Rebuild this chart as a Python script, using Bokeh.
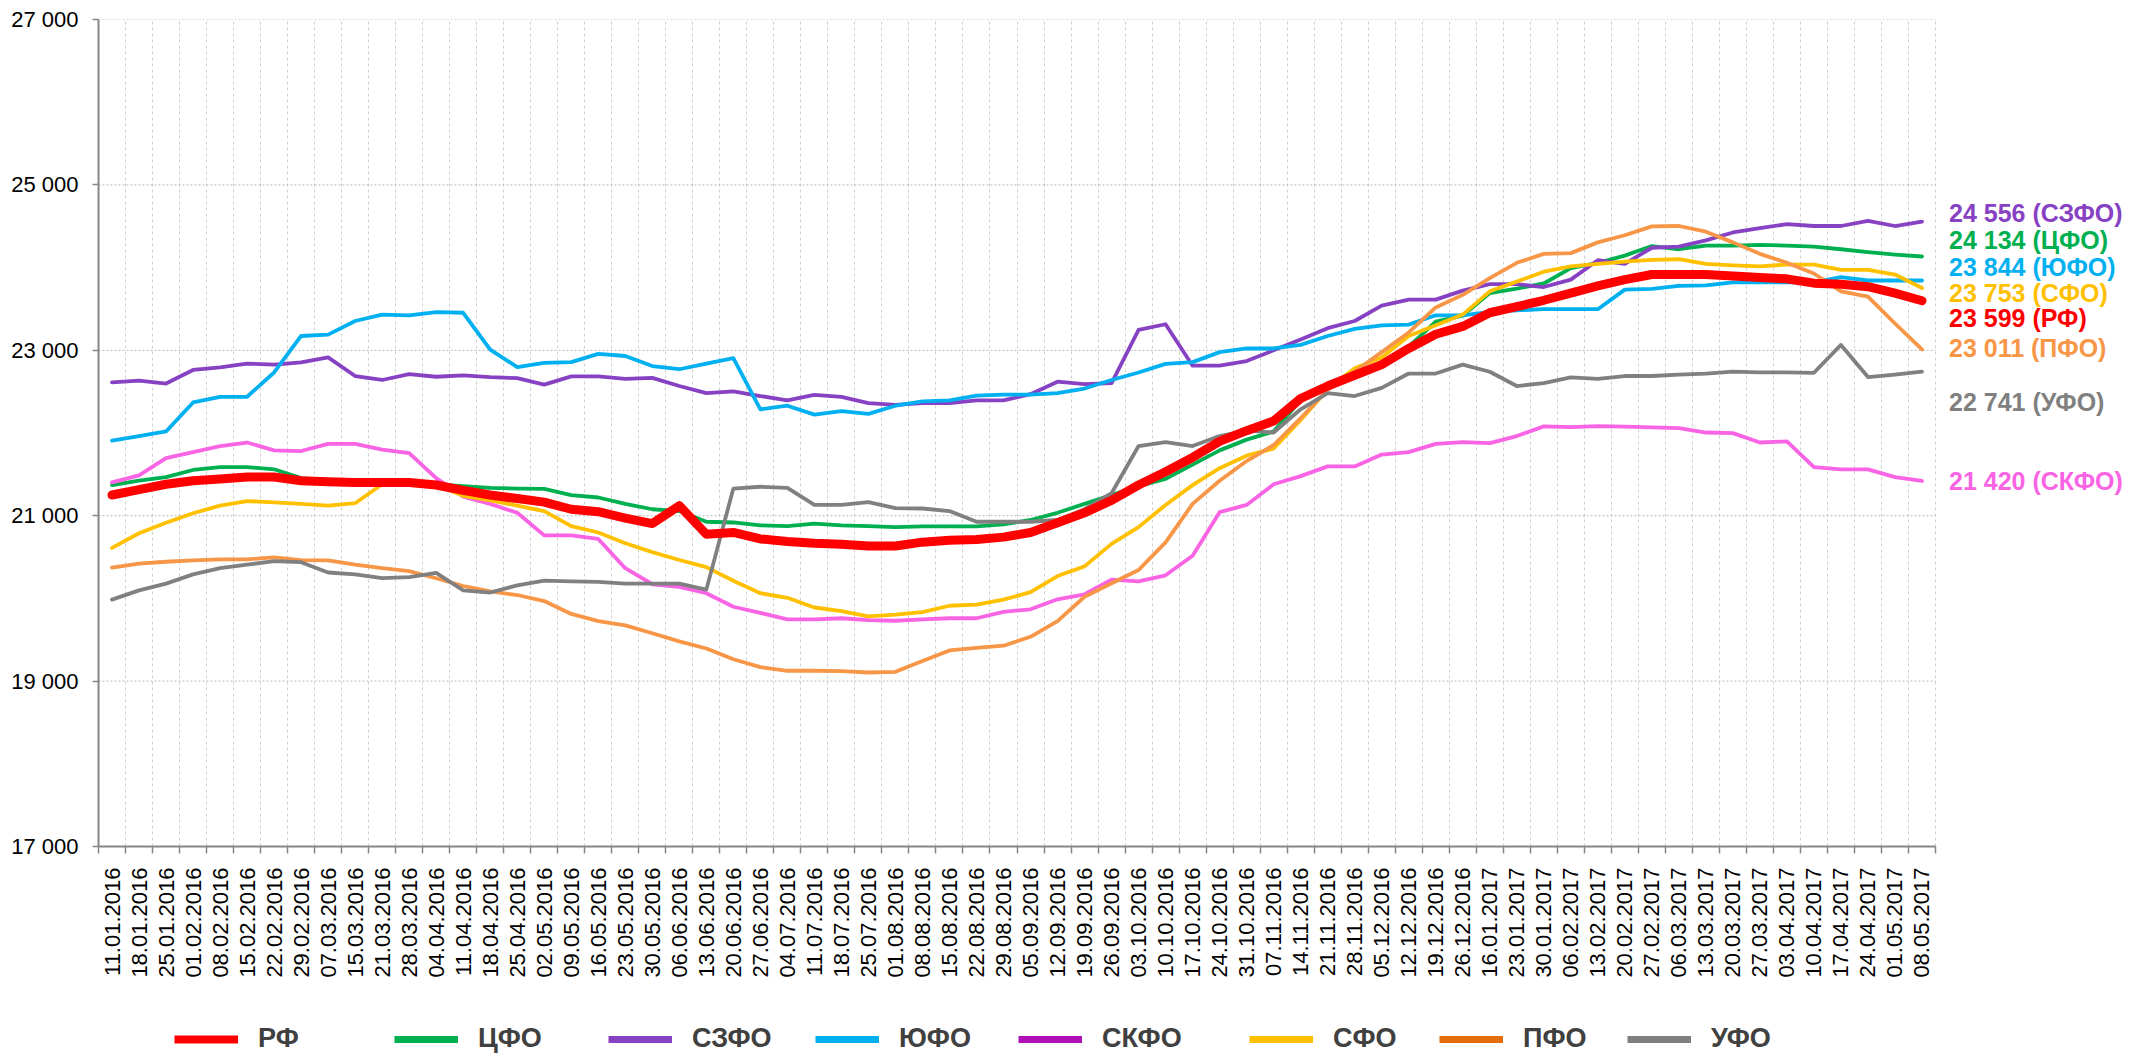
from math import pi
from bokeh.plotting import figure
from bokeh.layouts import column
from bokeh.models import (ColumnDataSource, FixedTicker, CustomJSTickFormatter, Legend,
                          LegendItem, LabelSet, Range1d)
from bokeh.embed import file_html
from bokeh.resources import INLINE
from bokeh.core.properties import value

dates = ["11.01.2016", "18.01.2016", "25.01.2016", "01.02.2016", "08.02.2016", "15.02.2016",
         "22.02.2016", "29.02.2016", "07.03.2016", "15.03.2016", "21.03.2016", "28.03.2016",
         "04.04.2016", "11.04.2016", "18.04.2016", "25.04.2016", "02.05.2016", "09.05.2016",
         "16.05.2016", "23.05.2016", "30.05.2016", "06.06.2016", "13.06.2016", "20.06.2016",
         "27.06.2016", "04.07.2016", "11.07.2016", "18.07.2016", "25.07.2016", "01.08.2016",
         "08.08.2016", "15.08.2016", "22.08.2016", "29.08.2016", "05.09.2016", "12.09.2016",
         "19.09.2016", "26.09.2016", "03.10.2016", "10.10.2016", "17.10.2016", "24.10.2016",
         "31.10.2016", "07.11.2016", "14.11.2016", "21.11.2016", "28.11.2016", "05.12.2016",
         "12.12.2016", "19.12.2016", "26.12.2016", "16.01.2017", "23.01.2017", "30.01.2017",
         "06.02.2017", "13.02.2017", "20.02.2017", "27.02.2017", "06.03.2017", "13.03.2017",
         "20.03.2017", "27.03.2017", "03.04.2017", "10.04.2017", "17.04.2017", "24.04.2017",
         "01.05.2017", "08.05.2017"]

rf = [21250, 21315, 21380, 21423, 21445, 21467, 21467, 21423, 21410, 21402, 21402, 21402, 21371, 21307,
      21250, 21207, 21164, 21078, 21048, 20970, 20905, 21121, 20776, 20797, 20719, 20689, 20667,
      20654, 20633, 20633, 20680, 20702, 20711, 20741, 20797, 20914, 21035, 21186, 21371, 21531,
      21704, 21898, 22028, 22145, 22417, 22568, 22698, 22827, 23022, 23194, 23289, 23454, 23527,
      23605, 23691, 23778, 23855, 23916, 23916, 23916, 23898, 23881, 23864, 23812, 23799, 23769, 23691, 23599]
cfo = [21371, 21423, 21467, 21553, 21587, 21587, 21561, 21454, 21423, 21414, 21410, 21402, 21380, 21358,
       21337, 21328, 21324, 21250, 21220, 21143, 21078, 21056, 20927, 20918, 20883, 20875, 20905,
       20883, 20875, 20862, 20871, 20871, 20871, 20896, 20948, 21035, 21143, 21250, 21358, 21445,
       21618, 21790, 21920, 22019, 22395, 22568, 22698, 22836, 23043, 23346, 23419, 23691, 23745,
       23808, 23994, 24058, 24145, 24261, 24222, 24266, 24266, 24274, 24266, 24253, 24222, 24188, 24158, 24134]
szfo = [22611, 22633, 22598, 22762, 22793, 22840, 22827, 22853, 22914, 22689, 22641, 22711, 22680, 22698,
        22676, 22663, 22585, 22685, 22685, 22654, 22667, 22568, 22482, 22503, 22447, 22395, 22460,
        22438, 22361, 22339, 22361, 22361, 22395, 22395, 22469, 22620, 22590, 22603, 23246, 23315,
        22814, 22814, 22870, 23000, 23130, 23268, 23354, 23540, 23613, 23613, 23721, 23799, 23799,
        23765, 23855, 24089, 24045, 24240, 24253, 24330, 24425, 24477, 24525, 24503, 24503, 24564, 24503, 24556]
yufo = [21907, 21963, 22019, 22369, 22438, 22438, 22732, 23173, 23190, 23354, 23432, 23423, 23462, 23454,
        23009, 22797, 22849, 22857, 22957, 22931, 22810, 22771, 22840, 22905, 22287, 22330, 22222,
        22265, 22231, 22330, 22382, 22395, 22451, 22464, 22464, 22482, 22538, 22641, 22732, 22836,
        22857, 22978, 23022, 23022, 23065, 23173, 23259, 23302, 23311, 23423, 23423, 23466, 23484,
        23497, 23497, 23497, 23734, 23743, 23778, 23786, 23821, 23821, 23821, 23821, 23886, 23844, 23844, 23844]
skfo = [21402, 21488, 21695, 21769, 21842, 21885, 21790, 21782, 21868, 21868, 21799, 21756, 21454, 21230,
        21143, 21035, 20762, 20762, 20719, 20365, 20171, 20140, 20063, 19899, 19825, 19747, 19747,
        19760, 19738, 19730, 19747, 19760, 19760, 19838, 19868, 19989, 20050, 20227, 20205, 20279,
        20516, 21043, 21130, 21380, 21479, 21596, 21596, 21739, 21769, 21868, 21890, 21877, 21963,
        22080, 22071, 22084, 22076, 22067, 22058, 22006, 21998, 21885, 21898, 21587, 21561, 21561, 21467, 21420]
sfo = [20611, 20788, 20914, 21030, 21121, 21177, 21160, 21143, 21121, 21151, 21380, 21380, 21370, 21240,
       21185, 21121, 21056, 20875, 20797, 20667, 20559, 20464, 20378, 20214, 20063, 20007, 19890,
       19846, 19782, 19803, 19833, 19911, 19924, 19985, 20076, 20270, 20387, 20659, 20862, 21130,
       21370, 21574, 21726, 21812, 22158, 22525, 22784, 22914, 23173, 23302, 23432, 23713, 23830,
       23950, 24015, 24045, 24071, 24093, 24101, 24045, 24028, 24015, 24037, 24037, 23972, 23972, 23916, 23753]
pfo = [20373, 20421, 20443, 20460, 20473, 20473, 20495, 20464, 20460, 20408, 20365, 20330, 20244, 20150,
       20084, 20041, 19968, 19812, 19726, 19674, 19579, 19480, 19394, 19264, 19169, 19125, 19125,
       19121, 19104, 19112, 19242, 19371, 19402, 19428, 19536, 19726, 20020, 20184, 20343, 20678,
       21143, 21423, 21661, 21855, 22179, 22525, 22741, 22978, 23216, 23518, 23670, 23873, 24058,
       24166, 24175, 24305, 24391, 24499, 24503, 24434, 24305, 24166, 24058, 23929, 23713, 23648, 23324, 23011]
ufo = [19985, 20097, 20179, 20291, 20365, 20408, 20451, 20438, 20313, 20291, 20244, 20257, 20309, 20097,
       20071, 20158, 20214, 20205, 20201, 20179, 20179, 20179, 20106, 21328, 21350, 21337, 21130,
       21130, 21164, 21091, 21087, 21056, 20927, 20927, 20927, 20948, 21078, 21272, 21842, 21890,
       21842, 21963, 22028, 22006, 22287, 22482, 22447, 22546, 22719, 22719, 22827, 22741, 22568,
       22603, 22672, 22654, 22689, 22689, 22706, 22719, 22741, 22732, 22732, 22728, 23065, 22676, 22706, 22741]

y_ticks = [17000, 19000, 21000, 23000, 25000, 27000]

# series: name, values, line colour, legend colour
series = [
    ("ЦФО", cfo, "#00B050", "#00B050"),
    ("СЗФО", szfo, "#8742C4", "#8742C4"),
    ("ЮФО", yufo, "#00B0F0", "#00B0F0"),
    ("СКФО", skfo, "#F864E4", "#B010B8"),
    ("СФО", sfo, "#FFC000", "#FFC000"),
    ("ПФО", pfo, "#F79646", "#E46C0A"),
    ("УФО", ufo, "#808080", "#808080"),
    ("РФ", rf, "#FF0000", "#FF0000"),
]
legend_order = ["РФ", "ЦФО", "СЗФО", "ЮФО", "СКФО", "СФО", "ПФО", "УФО"]
# horizontal layout offsets of the legend entries (pixels from the plot's left edge)
legend_x = [76, 296, 510, 717, 920, 1151, 1341, 1529]
label_order = ["СЗФО", "ЦФО", "ЮФО", "СФО", "РФ", "ПФО", "УФО", "СКФО"]
# vertical layout positions of the end labels (data units), to avoid overlap
label_pos = [24655, 24329, 24002, 23688, 23385, 23022, 22369, 21425]

n = len(dates)
x = list(range(n))

# layout (pixels)
W = 2129
H_MAIN, H_LEG = 1000, 58
LEFT, TOP = 98, 19
FRAME_BOTTOM = 846
PLOT_RIGHT = 1935          # right edge of the category area
px_per_cat = (PLOT_RIGHT - LEFT) / n
frame_w = W - LEFT - 2
x_end = -0.5 + frame_w / px_per_cat   # frame extends right to host the end labels

p = figure(width=W, height=H_MAIN,
           x_range=Range1d(-0.5, x_end), y_range=Range1d(y_ticks[0], y_ticks[-1]),
           output_backend="svg", toolbar_location=None,
           min_border_left=LEFT, min_border_right=2, min_border_top=TOP,
           min_border_bottom=H_MAIN - FRAME_BOTTOM)
p.outline_line_color = None
p.background_fill_color = "white"
p.border_fill_color = "white"

FONT = "Liberation Sans"

# x axis
xa = p.xaxis[0]
xa.bounds = (-0.5, n - 0.5)
xa.ticker = FixedTicker(ticks=x, minor_ticks=[i - 0.5 for i in range(n + 1)])
xa.formatter = CustomJSTickFormatter(args=dict(labels=dates),
                                     code="const i = Math.round(tick); return (i >= 0 && i < labels.length) ? labels[i] : '';")
xa.major_label_orientation = pi / 2
xa.major_tick_out = 0
xa.major_tick_in = 0
xa.minor_tick_out = 7
xa.minor_tick_in = 0
xa.minor_tick_line_color = "#868686"
xa.minor_tick_line_width = 1.5
xa.axis_line_color = "#868686"
xa.axis_line_width = 2
xa.major_label_standoff = 14
xa.major_label_text_font = FONT
xa.major_label_text_font_size = "22px"
xa.major_label_text_color = "#000000"

# y axis
ya = p.yaxis[0]
ya.ticker = FixedTicker(ticks=y_ticks)
ya.formatter = CustomJSTickFormatter(code=r"return tick.toFixed(0).replace(/\B(?=(\d{3})+(?!\d))/g, ' ');")
ya.major_tick_out = 6
ya.major_tick_in = 0
ya.minor_tick_out = 0
ya.minor_tick_in = 0
ya.major_tick_line_color = "#868686"
ya.major_tick_line_width = 1.5
ya.axis_line_color = "#868686"
ya.axis_line_width = 2
ya.major_label_standoff = 14
ya.major_label_text_font = FONT
ya.major_label_text_font_size = "22px"
ya.major_label_text_color = "#000000"

# grids
p.xgrid.ticker = FixedTicker(ticks=[i - 0.5 for i in range(n + 1)])
p.xgrid.grid_line_color = "#CFCFCF"
p.xgrid.grid_line_dash = "3 3"
p.xgrid.grid_line_width = 1
p.ygrid.visible = False
# horizontal grid lines limited to the category area
p.segment(x0=[-0.5] * len(y_ticks), x1=[n - 0.5] * len(y_ticks), y0=y_ticks, y1=y_ticks,
          line_color="#B8B8B8", line_dash="2 2", line_width=1)

# lines
lookup = {s[0]: s for s in series}
for name, vals, col, _ in series:
    lw = 9 if name == "РФ" else 3.8
    p.line(x, vals, line_color=col, line_width=lw, line_join="round", line_cap="round")

# end labels
lab_text, lab_col, lab_y = [], [], []
for name, pos in zip(label_order, label_pos):
    _, vals, col, _ = lookup[name]
    lab_text.append(f"{vals[-1]:,}".replace(",", " ") + f" ({name})")
    lab_col.append(col)
    lab_y.append(pos)
src = ColumnDataSource(dict(x=[n - 1] * len(label_order), y=lab_y, text=lab_text, color=lab_col))
labels = LabelSet(x="x", y="y", text="text", source=src, x_offset=27,
                  text_baseline="middle", text_align="left",
                  text_font=value(FONT), text_font_style="bold",
                  text_font_size=value("25px"), text_color="color")
p.add_layout(labels)

# legend strip below the chart: the same series drawn out of view, with legend colours
pl = figure(width=W, height=H_LEG, x_range=Range1d(-3, -2), y_range=Range1d(0, 1),
            output_backend="svg", toolbar_location=None, x_axis_type=None, y_axis_type=None,
            min_border=0)
pl.outline_line_color = None
pl.grid.visible = False
pl.background_fill_color = "white"
pl.border_fill_color = "white"
for name, lx in zip(legend_order, legend_x):
    _, vals, _, lcol = lookup[name]
    r = pl.line(x, vals, line_color=lcol, line_width=8 if name == "РФ" else 7)
    lg = Legend(items=[LegendItem(label=name, renderers=[r])], orientation="horizontal",
                location=(lx, 4), glyph_width=64, glyph_height=20, label_standoff=20,
                padding=0, margin=0, border_line_color=None, background_fill_alpha=0,
                label_text_font=FONT, label_text_font_style="bold",
                label_text_font_size="27px", label_text_color="#404040")
    pl.add_layout(lg, "center")

layout = column(p, pl, spacing=0)
open("out.html", "w").write(file_html(layout, INLINE))
